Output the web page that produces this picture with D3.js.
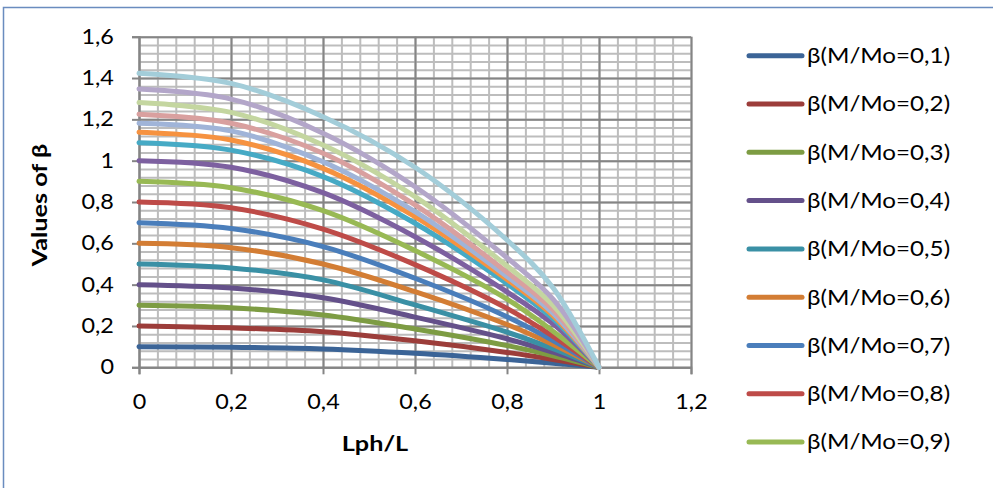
<!DOCTYPE html>
<html>
<head>
<meta charset="utf-8">
<script src="https://cdn.jsdelivr.net/npm/d3@7"></script>
<style>
  body { margin: 0; background: #fff; }
  svg { display: block; }
  text { font-family: Lato, "Open Sans", sans-serif; fill: #000; }
</style>
</head>
<body>
<div id="chart"></div>
<script>
// x positions (Lph/L) where the curves were read
var lphL = [0, 0.2, 0.4, 0.6, 0.8, 0.9, 1];

// beta values, one array per curve
var beta01 = [0.100, 0.097, 0.089, 0.068, 0.038, 0.020, 0];
var beta02 = [0.200, 0.191, 0.172, 0.128, 0.072, 0.038, 0];
var beta03 = [0.300, 0.288, 0.253, 0.185, 0.105, 0.056, 0];
var beta04 = [0.400, 0.384, 0.337, 0.243, 0.138, 0.073, 0];
var beta05 = [0.500, 0.481, 0.423, 0.302, 0.170, 0.090, 0];
var beta06 = [0.600, 0.579, 0.500, 0.366, 0.207, 0.110, 0];
var beta07 = [0.700, 0.672, 0.584, 0.431, 0.245, 0.130, 0];
var beta08 = [0.800, 0.772, 0.669, 0.497, 0.285, 0.150, 0];
var beta09 = [0.900, 0.869, 0.758, 0.565, 0.330, 0.175, 0];
var beta10 = [1.000, 0.968, 0.845, 0.632, 0.365, 0.210, 0];
var beta11 = [1.087, 1.051, 0.923, 0.697, 0.405, 0.235, 0];
var beta12 = [1.138, 1.100, 0.963, 0.729, 0.425, 0.250, 0];
var beta13 = [1.181, 1.144, 0.995, 0.753, 0.440, 0.262, 0];
var beta14 = [1.225, 1.181, 1.036, 0.786, 0.460, 0.278, 0];
var beta15 = [1.281, 1.234, 1.076, 0.826, 0.490, 0.300, 0];
var beta16 = [1.347, 1.298, 1.133, 0.874, 0.530, 0.330, 0];
var beta17 = [1.423, 1.374, 1.213, 0.968, 0.616, 0.385, 0];

var allBeta = [beta01, beta02, beta03, beta04, beta05, beta06, beta07, beta08, beta09,
               beta10, beta11, beta12, beta13, beta14, beta15, beta16, beta17];

var colors = ["#3b6497", "#9c3d3a", "#7d9c43", "#64508a", "#3a90a5", "#d37d34",
              "#4a7ebb", "#be4b48", "#98b954", "#7d60a0", "#46aac5", "#f69240",
              "#a0b4d8", "#d9a09f", "#c4d6a0", "#b3a6c9", "#a3cdd9"];

// legend entries visible in the chart
var legendNames = ["β(M/Mo=0,1)", "β(M/Mo=0,2)", "β(M/Mo=0,3)", "β(M/Mo=0,4)", "β(M/Mo=0,5)",
                   "β(M/Mo=0,6)", "β(M/Mo=0,7)", "β(M/Mo=0,8)", "β(M/Mo=0,9)"];

var xTicks = [0, 0.2, 0.4, 0.6, 0.8, 1, 1.2];
var yTicks = [0, 0.2, 0.4, 0.6, 0.8, 1, 1.2, 1.4, 1.6];

var width = 993, height = 488;
var stretch = "scale(1.14,1)";
var fontSize = "20.5px";

var svg = d3.select("#chart").append("svg")
    .attr("width", width)
    .attr("height", height);

// outer chart frame
svg.append("rect")
    .attr("x", 3.5).attr("y", 7.5)
    .attr("width", 1200).attr("height", 800)
    .attr("fill", "none")
    .attr("stroke", "#6a8cbf")
    .attr("stroke-width", 1.5);

var x = d3.scaleLinear().domain([0, 1.2]).range([139, 691]);
var y = d3.scaleLinear().domain([0, 1.6]).range([367.3, 36.7]);

var plotH = y(0) - y(1.6);
var plotW = x(1.2) - x(0);

// minor grid
svg.append("g")
    .attr("transform", `translate(0,${y(0)})`)
    .call(d3.axisBottom(x).tickValues(d3.range(0, 1.2001, 0.04)).tickSize(-plotH).tickFormat(""))
    .call(g => g.select(".domain").remove())
    .call(g => g.selectAll("line").attr("stroke", "#bdbdbd").attr("stroke-width", 2));

svg.append("g")
    .attr("transform", `translate(${x(0)},0)`)
    .call(d3.axisLeft(y).tickValues(d3.range(0, 1.6001, 0.04)).tickSize(-plotW).tickFormat(""))
    .call(g => g.select(".domain").remove())
    .call(g => g.selectAll("line").attr("stroke", "#bdbdbd").attr("stroke-width", 2));

// major grid
svg.append("g")
    .attr("transform", `translate(0,${y(0)})`)
    .call(d3.axisBottom(x).tickValues(xTicks).tickSize(-plotH).tickFormat(""))
    .call(g => g.select(".domain").remove())
    .call(g => g.selectAll("line").attr("stroke", "#858585").attr("stroke-width", 2));

svg.append("g")
    .attr("transform", `translate(${x(0)},0)`)
    .call(d3.axisLeft(y).tickValues(yTicks).tickSize(-plotW).tickFormat(""))
    .call(g => g.select(".domain").remove())
    .call(g => g.selectAll("line").attr("stroke", "#858585").attr("stroke-width", 2));

var fmt = d => String(d).replace(".", ",");

// axes with outside ticks and labels
svg.append("g")
    .attr("transform", `translate(0,${y(0)})`)
    .call(d3.axisBottom(x).tickValues(xTicks).tickSize(7).tickPadding(20).tickFormat(fmt))
    .call(g => g.select(".domain").attr("stroke", "#858585").attr("stroke-width", 2))
    .call(g => g.selectAll(".tick line").attr("stroke", "#858585").attr("stroke-width", 2))
    .call(g => g.selectAll(".tick text").attr("font-size", fontSize).attr("font-family", "Lato").attr("transform", stretch));

svg.append("g")
    .attr("transform", `translate(${x(0)},0)`)
    .call(d3.axisLeft(y).tickValues(yTicks).tickSize(7).tickPadding(15).tickFormat(fmt))
    .call(g => g.select(".domain").attr("stroke", "#858585").attr("stroke-width", 2))
    .call(g => g.selectAll(".tick line").attr("stroke", "#858585").attr("stroke-width", 2))
    .call(g => g.selectAll(".tick text").attr("font-size", fontSize).attr("font-family", "Lato").attr("transform", stretch));

// axis titles
svg.append("text")
    .attr("transform", `translate(375,451) scale(1.2,1)`)
    .attr("text-anchor", "middle")
    .attr("font-size", "21px")
    .attr("font-weight", "bold")
    .text("Lph/L");

svg.append("text")
    .attr("transform", `translate(47,205) rotate(-90) scale(1.2,1)`)
    .attr("text-anchor", "middle")
    .attr("font-size", "21px")
    .attr("font-weight", "bold")
    .text("Values of β");

// curves
var line = d3.line()
    .x((d, i) => x(lphL[i]))
    .y(d => y(d))
    .curve(d3.curveCatmullRom.alpha(0.5));

svg.append("g")
    .attr("fill", "none")
    .attr("stroke-width", 5)
    .attr("stroke-linecap", "round")
    .attr("stroke-linejoin", "round")
  .selectAll("path")
  .data(allBeta)
  .join("path")
    .attr("stroke", (d, i) => colors[i])
    .attr("d", line);

// legend
var legend = svg.append("g")
  .selectAll("g")
  .data(legendNames)
  .join("g")
    .attr("transform", (d, i) => `translate(749,${55.7 + i * 48.3})`);

legend.append("line")
    .attr("x1", 0).attr("x2", 53)
    .attr("stroke", (d, i) => colors[i])
    .attr("stroke-width", 5)
    .attr("stroke-linecap", "round");

legend.append("text")
    .attr("transform", "translate(58,0) scale(1.18,1)")
    .attr("dy", "0.36em")
    .attr("font-size", fontSize)
    .text(d => d);
</script>
</body>
</html>
